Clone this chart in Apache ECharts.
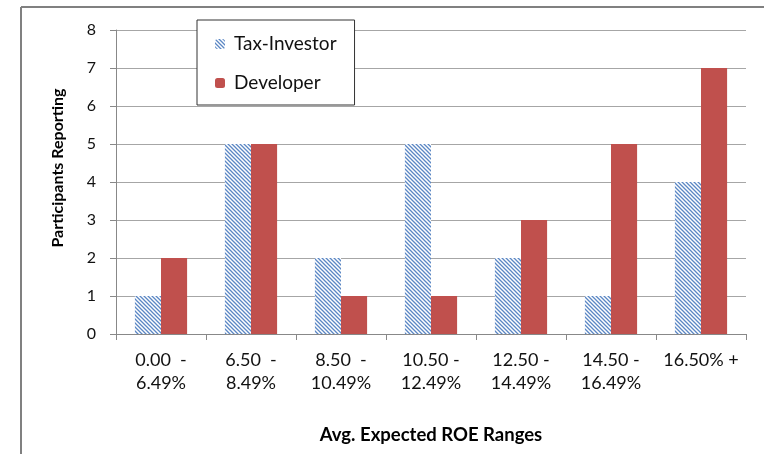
<!DOCTYPE html>
<html>
<head>
<meta charset="utf-8">
<script src="https://cdn.jsdelivr.net/npm/echarts@6/dist/echarts.min.js"></script>
<style>
html,body{margin:0;padding:0;background:#fff;}
#c{width:764px;height:454px;}
</style>
</head>
<body>
<div id="c"></div>
<script>
const categories = ["0.00  -\n6.49%", "6.50  -\n8.49%", "8.50  -\n10.49%", "10.50 -\n12.49%", "12.50 -\n14.49%", "14.50 -\n16.49%", "16.50% +"];
const taxInvestor = [1, 5, 2, 5, 2, 1, 4];
const developer = [2, 5, 1, 1, 3, 5, 7];
const yTicks = [0, 1, 2, 3, 4, 5, 6, 7, 8];

function hatch() {
  const s = 4;
  const cv = document.createElement('canvas');
  cv.width = s; cv.height = s;
  const ctx = cv.getContext('2d');
  ctx.fillStyle = '#ffffff';
  ctx.fillRect(0, 0, s, s);
  ctx.strokeStyle = '#5b87c4';
  ctx.lineWidth = 1.3;
  ctx.beginPath();
  ctx.moveTo(-1, -1); ctx.lineTo(s + 1, s + 1);
  ctx.moveTo(-1, s - 1); ctx.lineTo(1, s + 1);
  ctx.moveTo(s - 1, -1); ctx.lineTo(s + 1, 1);
  ctx.stroke();
  return cv;
}

const font = 'Lato, "Open Sans", sans-serif';
const chart = echarts.init(document.getElementById('c'), null, {renderer: 'canvas'});
chart.setOption({
  animation: false,
  backgroundColor: '#ffffff',
  textStyle: {fontFamily: font},
  grid: {left: 116, right: 18, top: 30, bottom: 120},
  legend: {
    orient: 'vertical',
    left: 197, top: 20,
    padding: [14, 18, 12, 18],
    itemGap: 19,
    itemWidth: 10, itemHeight: 10,
    borderColor: '#333', borderWidth: 1,
    backgroundColor: '#fff',
    textStyle: {fontSize: 19, lineHeight: 20, color: '#111', fontFamily: font, padding: [0, 0, 0, 4]},
    data: ['Tax-Investor', 'Developer']
  },
  xAxis: {
    type: 'category',
    data: categories,
    name: 'Avg. Expected ROE Ranges',
    nameLocation: 'middle',
    nameGap: 92,
    nameTextStyle: {fontSize: 18.5, fontWeight: 'bold', color: '#000', fontFamily: font},
    axisLine: {lineStyle: {color: '#888', width: 1}},
    axisTick: {show: true, length: 6, lineStyle: {color: '#888'}},
    axisLabel: {fontSize: 18, color: '#111', lineHeight: 23, margin: 15, interval: 0, fontFamily: font}
  },
  yAxis: {
    type: 'value',
    min: 0, max: 8, interval: 1,
    axisLine: {show: true, lineStyle: {color: '#888', width: 1}},
    axisTick: {show: true, length: 6, lineStyle: {color: '#888'}},
    splitLine: {lineStyle: {color: '#a6a6a6', width: 1}},
    axisLabel: {fontSize: 16, color: '#111', margin: 20, fontFamily: font,
      formatter: v => yTicks.includes(v) ? String(v) : ''}
  },
  graphic: [
    {type: 'line', shape: {x1: 21, y1: 7, x2: 764, y2: 7}, style: {stroke: '#808080', lineWidth: 2}},
    {type: 'line', shape: {x1: 21, y1: 7, x2: 21, y2: 454}, style: {stroke: '#808080', lineWidth: 2}},
    {type: 'text', x: 58, y: 168, rotation: Math.PI / 2,
      style: {text: 'Participants Reporting', fontSize: 16, fontWeight: 'bold', fill: '#000',
        fontFamily: font, textAlign: 'center', textVerticalAlign: 'middle'}}
  ],
  series: [
    {name: 'Tax-Investor', type: 'bar', data: taxInvestor, barGap: '0%', barCategoryGap: '42%',
      itemStyle: {color: {image: hatch(), repeat: 'repeat'}}},
    {name: 'Developer', type: 'bar', data: developer, barGap: '0%', barCategoryGap: '42%',
      itemStyle: {color: '#c0504d'}}
  ]
});
</script>
</body>
</html>
